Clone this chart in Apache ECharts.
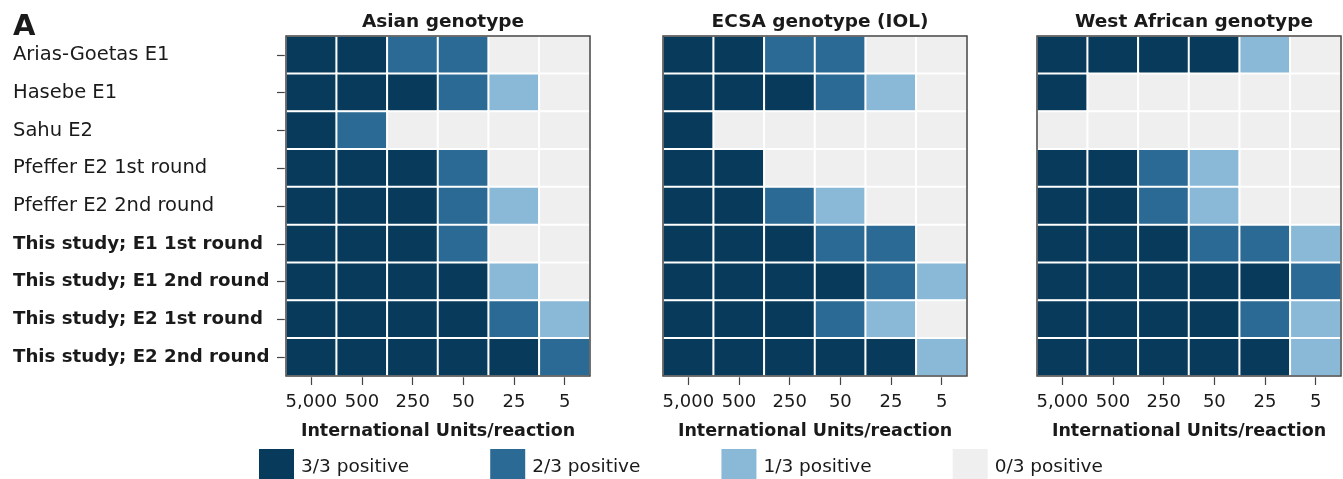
<!DOCTYPE html>
<html><head><meta charset="utf-8">
<script src="https://cdn.jsdelivr.net/npm/echarts@6/dist/echarts.min.js"></script>
<style>html,body{margin:0;padding:0;background:#fff}#c{width:1343px;height:479px}</style>
</head><body><div id="c"></div>
<script>
const doses = ['5,000', '500', '250', '50', '25', '5'];
const assays = ['Arias-Goetas E1', 'Hasebe E1', 'Sahu E2', 'Pfeffer E2 1st round', 'Pfeffer E2 2nd round',
  'This study; E1 1st round', 'This study; E1 2nd round', 'This study; E2 1st round', 'This study; E2 2nd round'];
const panelTitles = ['Asian genotype', 'ECSA genotype (IOL)', 'West African genotype'];
const asian = [
  [3,3,2,2,0,0],[3,3,3,2,1,0],[3,2,0,0,0,0],[3,3,3,2,0,0],[3,3,3,2,1,0],
  [3,3,3,2,0,0],[3,3,3,3,1,0],[3,3,3,3,2,1],[3,3,3,3,3,2]];
const ecsa = [
  [3,3,2,2,0,0],[3,3,3,2,1,0],[3,0,0,0,0,0],[3,3,0,0,0,0],[3,3,2,1,0,0],
  [3,3,3,2,2,0],[3,3,3,3,2,1],[3,3,3,2,1,0],[3,3,3,3,3,1]];
const westAfrican = [
  [3,3,3,3,1,0],[3,0,0,0,0,0],[0,0,0,0,0,0],[3,3,2,1,0,0],[3,3,2,1,0,0],
  [3,3,3,2,2,1],[3,3,3,3,3,2],[3,3,3,3,2,1],[3,3,3,3,3,1]];
const levels = [3, 2, 1, 0];
const levelLabels = ['3/3 positive', '2/3 positive', '1/3 positive', '0/3 positive'];
const levelColors = ['#073a5b', '#2a6a94', '#8ab9d8', '#efefef'];

const panels = [asian, ecsa, westAfrican];
const lefts = [286, 663, 1037];
const W = 304, TOP = 36, H = 340;
const FONT = '"DejaVu Sans", sans-serif';

const grid = [], xAxis = [], yAxis = [], series = [], title = [];
panels.forEach((p, i) => {
  grid.push({left: lefts[i], top: TOP, width: W, height: H, show: true, z: 10,
    backgroundColor: 'transparent', borderColor: '#444', borderWidth: 1.5});
  title.push({text: panelTitles[i], left: lefts[i] + W / 2, top: 8, textAlign: 'center',
    textStyle: {fontFamily: FONT, fontSize: 18.5, fontWeight: 'bold', color: '#1a1a1a'}});
  xAxis.push({type: 'category', gridIndex: i, data: doses, position: 'bottom',
    axisLine: {show: false}, splitLine: {show: false},
    axisTick: {show: true, alignWithLabel: true, length: 9, lineStyle: {color: '#444', width: 1.2}},
    axisLabel: {margin: 17, fontFamily: FONT, fontSize: 18, color: '#1a1a1a', interval: 0},
    name: 'International Units/reaction', nameLocation: 'middle', nameGap: 46,
    nameTextStyle: {fontFamily: FONT, fontSize: 17.5, fontWeight: 'bold', color: '#1a1a1a'}});
  yAxis.push({type: 'category', gridIndex: i, data: assays, inverse: true,
    axisLine: {show: false}, splitLine: {show: false},
    axisTick: {show: i === 0, alignWithLabel: true, length: 9, lineStyle: {color: '#444', width: 1.2}},
    axisLabel: {show: i === 0, align: 'left', margin: 273, fontFamily: FONT, fontSize: 19.5, color: '#1a1a1a',
      formatter: v => v.startsWith('This study') ? '{b|' + v + '}' : v,
      rich: {b: {fontFamily: FONT, fontSize: 18.2, fontWeight: 'bold', color: '#1a1a1a'}}}});
  const data = [];
  p.forEach((row, r) => row.forEach((v, c) => data.push([c, r, v])));
  series.push({type: 'heatmap', xAxisIndex: i, yAxisIndex: i, data: data,
    itemStyle: {borderColor: '#fff', borderWidth: 2}, emphasis: {disabled: true}});
});
title.push({text: 'A', left: 8, top: 8, textStyle: {fontFamily: FONT, fontSize: 29, fontWeight: 'bold', color: '#1a1a1a'}});

const chart = echarts.init(document.getElementById('c'), null, {renderer: 'canvas'});
chart.setOption({
  animation: false,
  title: title, grid: grid, xAxis: xAxis, yAxis: yAxis, series: series,
  visualMap: {type: 'piecewise', orient: 'horizontal', inverse: true, left: 244, top: 434, seriesIndex: [0, 1, 2],
    itemWidth: 35, itemHeight: 37, itemGap: 81, textGap: 7, itemSymbol: 'rect', selectedMode: false,
    hoverLink: false,
    textStyle: {fontFamily: FONT, fontSize: 18.5, color: '#1a1a1a'},
    pieces: levels.map((v, k) => ({value: v, label: levelLabels[k], color: levelColors[k]}))}
});
</script></body></html>
